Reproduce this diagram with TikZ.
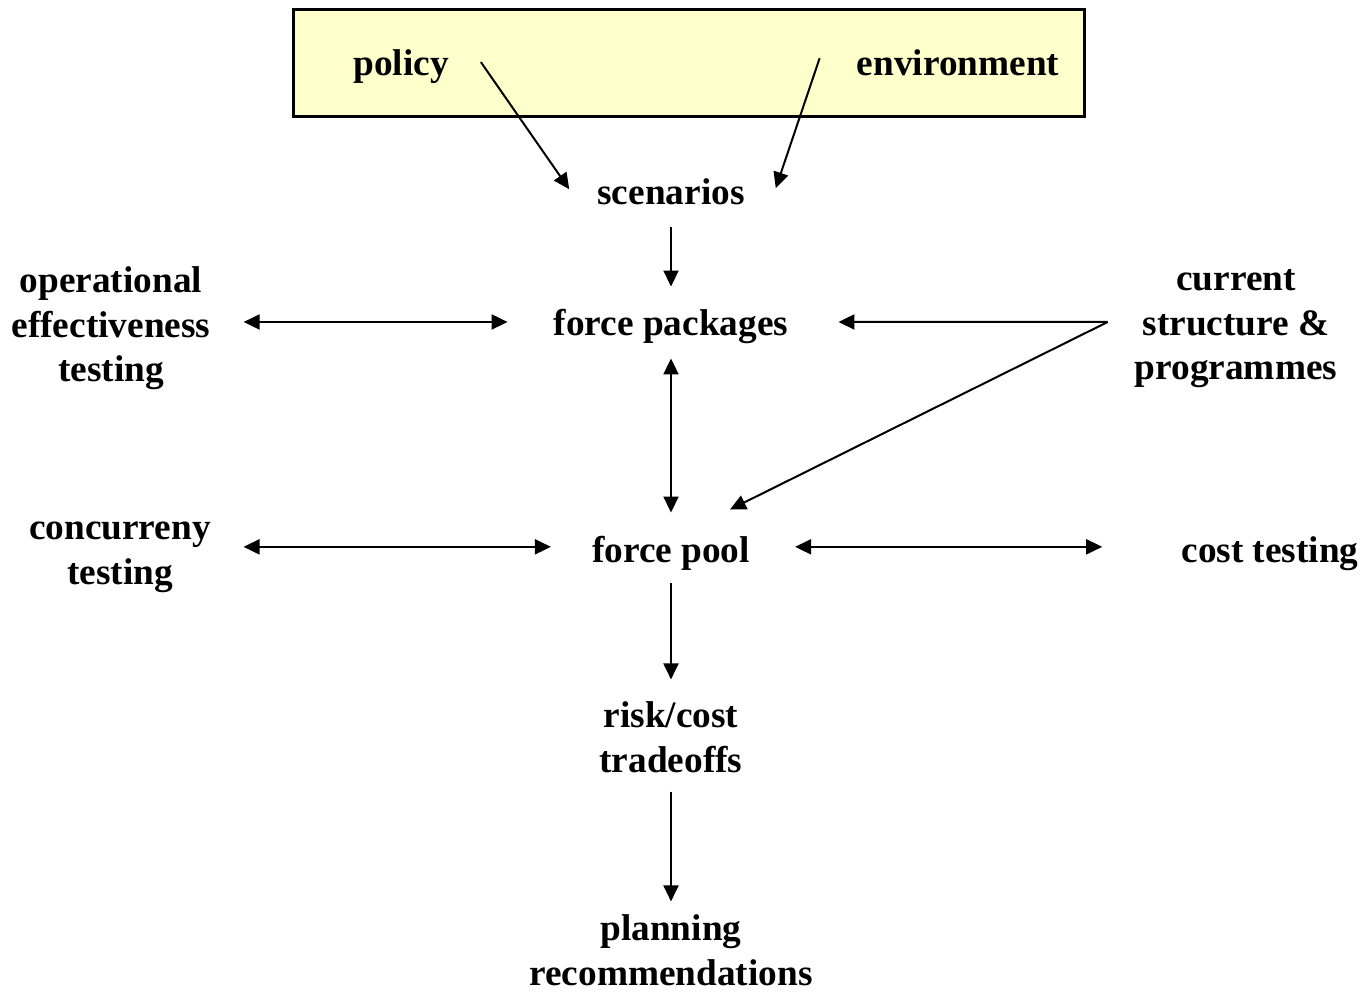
\documentclass[tikz,border=0pt]{standalone}
\usepackage{fontspec}
\setmainfont{Liberation Serif}
\usepackage{tikz}
\usetikzlibrary{arrows.meta,positioning,calc}
\definecolor{boxyellow}{RGB}{255,255,204}

\begin{document}
\begin{tikzpicture}[x=1pt,y=-1pt,
  lbl/.style={inner sep=0pt,align=center,font=\fontsize{37.3}{44.5}\selectfont\bfseries},
  arr/.style={line width=2pt,-{Triangle[length=16pt,width=15pt]}},
  darr/.style={line width=2pt,{Triangle[length=16pt,width=15pt]}-{Triangle[length=16pt,width=15pt]}}]
\useasboundingbox (0,0) rectangle (1366,992);
\node[draw=black,line width=3pt,fill=boxyellow,minimum width=791pt,minimum height=107pt] (frame) at (688.5,63.5) {};
\node[lbl,anchor=base] (pol) at (401,76) {policy};
\node[lbl,anchor=base] (env) at (958,76) {environment};
\node[lbl,anchor=base] (scen) at (671,205) {scenarios};
\node[lbl,anchor=base] (fp) at (671,336) {force packages};
\node[lbl] (opt) at (111,328.5) {operational\\effectiveness\\testing};
\node[lbl] (cur) at (1236,329) {current\\structure \&\\programmes};
\node[lbl,anchor=base] (pool) at (671,562) {force pool};
\node[lbl] (conc) at (120,557.5) {concurreny\\testing};
\node[lbl,anchor=base] (cost) at (1270,562) {cost testing};
\node[lbl] (risk) at (671,737) {risk/cost\\tradeoffs};
\node[lbl] (plan) at (671,950) {planning\\recommendations};
\coordinate (cs) at ([xshift=-27pt,yshift=7pt]cur.west);
% top part
\draw[arr] ([xshift=32pt,yshift=5pt]pol.east) -- ([xshift=-28pt,yshift=3pt]scen.west);
\draw[arr] ([xshift=-37pt,yshift=5pt]env.west) -- ([xshift=31pt,yshift=4pt]scen.east);
\draw[arr,shorten <=21pt,shorten >=23pt] (scen.south) -- (fp.north);
% middle row
\draw[darr] ([xshift=33pt,yshift=5pt]opt.east |- fp.west) -- ([xshift=-46pt,yshift=5pt]fp.west);
\draw[arr] (cs) -- ([xshift=50pt,yshift=5pt]fp.east);
\draw[arr] (cs) -- ([xshift=59pt,yshift=26pt]pool.north);
\draw[darr,shorten <=14pt,shorten >=23pt] (fp.south) -- (pool.north);
\draw[darr] ([xshift=32.5pt,yshift=6pt]conc.east |- pool.west) -- ([xshift=-41pt,yshift=6pt]pool.west);
\draw[darr] ([xshift=45pt,yshift=6pt]pool.east) -- ([xshift=-79pt,yshift=6pt]pool.east -| cost.west);
% bottom part
\draw[arr,shorten <=13pt,shorten >=22pt] (pool.south) -- (risk.north);
\draw[arr,shorten <=19pt,shorten >=13pt] (risk.south) -- (plan.north);
\end{tikzpicture}
\end{document}
